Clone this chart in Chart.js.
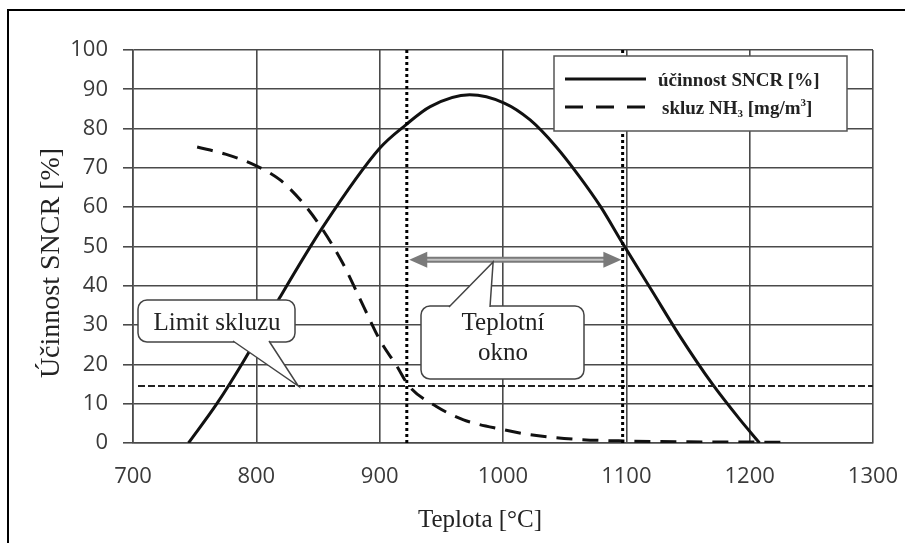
<!DOCTYPE html>
<html lang="cs">
<head>
<meta charset="UTF-8">
<title>Účinnost SNCR</title>
<script src="https://cdn.jsdelivr.net/npm/chart.js"></script>
<style>
    html, body { margin: 0; padding: 0; background: #fff; overflow: hidden; }
    #wrap { width: 905px; height: 543px; }
</style>
</head>
<body>
<div id="wrap"><canvas id="graf"></canvas></div>
<script>
    // účinnost SNCR [%] v závislosti na teplotě
    const teplotaUcinnost = [745, 768, 790, 819, 854, 900, 921, 941, 973, 1001, 1022, 1043, 1062, 1079, 1097, 1121, 1143, 1170, 1192, 1208];
    const ucinnost = [0, 10, 21, 37, 55, 75, 80.9, 85.6, 88.6, 86.5, 82.2, 75.4, 67.8, 60.2, 50.8, 38.6, 27.4, 14.9, 6, 0];

    // skluz NH3 [mg/m3]
    const teplotaSkluz = [752, 775, 800, 819, 838, 854, 870, 887, 900, 914, 924, 946, 968, 1000, 1022, 1062, 1100, 1150, 1228];
    const skluz = [75.3, 73.5, 70.5, 67, 61, 54.2, 45.8, 34.7, 26.3, 19.5, 14.4, 9.3, 5.9, 3.4, 2.1, 0.9, 0.5, 0.3, 0.2];

    const limitSkluzu = 14.5;
    const teplotniOkno = [922, 1097];
    const oknoSipkaY = 46.6;
    const osaX = { min: 700, max: 1300, krok: 100 };
    const osaY = { min: 0, max: 100, krok: 10 };

    const SERIF = '"Liberation Serif", "Times New Roman", serif';
    const SANS = '"Open Sans", "Noto Sans", sans-serif';

    function body(xs, ys) {
        return xs.map((x, i) => ({ x: x, y: ys[i] }));
    }

    // bublina s popiskem a špičkou
    function bublina(ctx, x, y, w, h, zaklad1, zaklad2, spicka) {
        ctx.save();
        ctx.lineWidth = 1.5;
        ctx.strokeStyle = '#444';
        ctx.fillStyle = '#fff';
        ctx.beginPath();
        ctx.roundRect(x, y, w, h, 9);
        ctx.fill();
        ctx.stroke();
        ctx.beginPath();
        ctx.moveTo(zaklad1[0], zaklad1[1]);
        ctx.lineTo(spicka[0], spicka[1]);
        ctx.lineTo(zaklad2[0], zaklad2[1]);
        ctx.closePath();
        ctx.fill();
        ctx.beginPath();
        ctx.moveTo(zaklad1[0], zaklad1[1]);
        ctx.lineTo(spicka[0], spicka[1]);
        ctx.lineTo(zaklad2[0], zaklad2[1]);
        ctx.stroke();
        ctx.restore();
    }

    const dekorace = {
        id: 'dekorace',
        beforeDraw(chart) {
            const ctx = chart.ctx;
            ctx.save();
            ctx.fillStyle = '#fff';
            ctx.fillRect(0, 0, chart.width, chart.height);
            ctx.strokeStyle = '#000';
            ctx.lineWidth = 2;
            ctx.beginPath();
            ctx.moveTo(8, chart.height);
            ctx.lineTo(8, 10);
            ctx.lineTo(chart.width, 10);
            ctx.stroke();
            ctx.restore();
        },
        afterDatasetsDraw(chart) {
            const ctx = chart.ctx;
            const sx = chart.scales.x, sy = chart.scales.y;
            const a = chart.chartArea;
            ctx.save();

            // limit skluzu
            ctx.strokeStyle = '#222';
            ctx.lineWidth = 2;
            ctx.setLineDash([7, 3]);
            const yl = sy.getPixelForValue(limitSkluzu);
            ctx.beginPath();
            ctx.moveTo(a.left + 5, yl);
            ctx.lineTo(a.right, yl);
            ctx.stroke();

            // hranice teplotního okna
            ctx.strokeStyle = '#000';
            ctx.lineWidth = 3;
            ctx.setLineDash([3, 3]);
            teplotniOkno.forEach(t => {
                const x = sx.getPixelForValue(t);
                ctx.beginPath();
                ctx.moveTo(x, a.top);
                ctx.lineTo(x, a.bottom);
                ctx.stroke();
            });
            ctx.setLineDash([]);

            // šipka teplotního okna
            const x1 = sx.getPixelForValue(teplotniOkno[0] + 2);
            const x2 = sx.getPixelForValue(teplotniOkno[1] - 1);
            const ya = sy.getPixelForValue(oknoSipkaY);
            const hl = 18, hw = 8;
            ctx.strokeStyle = '#7a7a7a';
            ctx.lineWidth = 6;
            ctx.beginPath();
            ctx.moveTo(x1 + hl - 2, ya);
            ctx.lineTo(x2 - hl + 2, ya);
            ctx.stroke();
            ctx.strokeStyle = '#c4c4c4';
            ctx.lineWidth = 2;
            ctx.beginPath();
            ctx.moveTo(x1 + hl - 2, ya);
            ctx.lineTo(x2 - hl + 2, ya);
            ctx.stroke();
            ctx.fillStyle = '#7a7a7a';
            ctx.beginPath();
            ctx.moveTo(x1, ya);
            ctx.lineTo(x1 + hl, ya - hw);
            ctx.lineTo(x1 + hl, ya + hw);
            ctx.closePath();
            ctx.fill();
            ctx.beginPath();
            ctx.moveTo(x2, ya);
            ctx.lineTo(x2 - hl, ya - hw);
            ctx.lineTo(x2 - hl, ya + hw);
            ctx.closePath();
            ctx.fill();

            // popisky v bublinách
            bublina(ctx, 138, 300, 157, 42, [233, 341], [269, 341],
                [sx.getPixelForValue(834), yl]);
            bublina(ctx, 421, 306, 163, 73, [449, 307], [490, 307],
                [sx.getPixelForValue(992), ya + 2]);
            ctx.fillStyle = '#222';
            ctx.font = '25px ' + SERIF;
            ctx.textAlign = 'center';
            ctx.textBaseline = 'alphabetic';
            ctx.fillText('Limit skluzu', 217, 330);
            ctx.fillText('Teplotní', 503, 330);
            ctx.fillText('okno', 503, 360);

            // legenda
            ctx.fillStyle = '#fff';
            ctx.strokeStyle = '#555';
            ctx.lineWidth = 1.5;
            ctx.fillRect(554, 56, 293, 75);
            ctx.strokeRect(554, 56, 293, 75);
            ctx.strokeStyle = '#111';
            ctx.lineWidth = 3;
            ctx.beginPath();
            ctx.moveTo(565, 79);
            ctx.lineTo(646, 79);
            ctx.stroke();
            ctx.setLineDash([18, 13]);
            ctx.beginPath();
            ctx.moveTo(565, 107);
            ctx.lineTo(646, 107);
            ctx.stroke();
            ctx.setLineDash([]);
            ctx.fillStyle = '#222';
            ctx.textAlign = 'left';
            ctx.font = 'bold 19px ' + SERIF;
            ctx.fillText('účinnost SNCR [%]', 658, 86);
            let x = 662;
            const radek = 114;
            ctx.fillText('skluz NH', x, radek);
            x += ctx.measureText('skluz NH').width;
            ctx.font = 'bold 11px ' + SERIF;
            ctx.fillText('3', x, radek + 3);
            x += ctx.measureText('3').width;
            ctx.font = 'bold 19px ' + SERIF;
            ctx.fillText(' [mg/m', x, radek);
            x += ctx.measureText(' [mg/m').width;
            ctx.font = 'bold 11px ' + SERIF;
            ctx.fillText('3', x, radek - 8);
            x += ctx.measureText('3').width;
            ctx.font = 'bold 19px ' + SERIF;
            ctx.fillText(']', x, radek);

            // názvy os
            ctx.fillStyle = '#222';
            ctx.font = '25px ' + SERIF;
            ctx.textAlign = 'center';
            ctx.fillText('Teplota [°C]', 480, 527);
            ctx.translate(59, 263);
            ctx.rotate(-Math.PI / 2);
            ctx.font = '28px ' + SERIF;
            ctx.fillText('Účinnost SNCR [%]', 0, 0);
            ctx.restore();
        }
    };

    const mrizka = { color: '#4a4a4a', lineWidth: 1.6 };

    new Chart(document.getElementById('graf'), {
        type: 'line',
        data: {
            datasets: [{
                label: 'účinnost SNCR [%]',
                data: body(teplotaUcinnost, ucinnost),
                borderColor: '#111',
                borderWidth: 3,
                pointRadius: 0,
                fill: false,
                cubicInterpolationMode: 'monotone'
            }, {
                label: 'skluz NH3 [mg/m3]',
                data: body(teplotaSkluz, skluz),
                borderColor: '#111',
                borderWidth: 3,
                borderDash: [16, 10],
                pointRadius: 0,
                fill: false,
                cubicInterpolationMode: 'monotone'
            }]
        },
        options: {
            responsive: true,
            maintainAspectRatio: false,
            animation: false,
            layout: { padding: { top: 50, right: 32, bottom: 0, left: 0 } },
            plugins: {
                legend: { display: false },
                tooltip: { enabled: false }
            },
            scales: {
                x: {
                    type: 'linear',
                    min: osaX.min,
                    max: osaX.max,
                    ticks: {
                        stepSize: osaX.krok, padding: 21, color: '#3a3a3a',
                        font: { family: SANS, size: 22 },
                        callback: v => String(v)
                    },
                    grid: { color: mrizka.color, lineWidth: mrizka.lineWidth, drawTicks: false },
                    border: { color: mrizka.color, width: mrizka.lineWidth },
                    afterFit(scale) {
                        scale.height = 100;
                        scale.paddingLeft = 0;
                        scale.paddingRight = 0;
                    }
                },
                y: {
                    min: osaY.min,
                    max: osaY.max,
                    ticks: { stepSize: osaY.krok, padding: 15, color: '#3a3a3a', font: { family: SANS, size: 22 } },
                    grid: { color: mrizka.color, lineWidth: mrizka.lineWidth, tickLength: 10 },
                    border: { color: mrizka.color, width: mrizka.lineWidth },
                    afterFit(scale) { scale.width = 133; }
                }
            }
        },
        plugins: [dekorace]
    });
</script>
</body>
</html>
